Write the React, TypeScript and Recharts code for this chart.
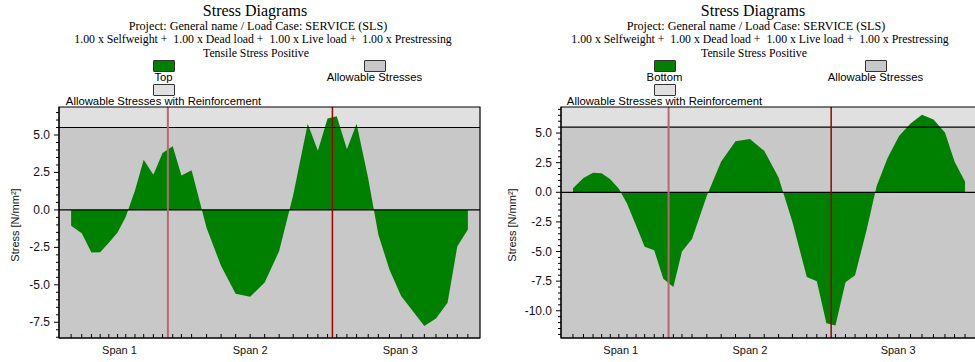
import { ComposedChart, Area, XAxis, YAxis, ReferenceLine, ReferenceArea } from 'recharts'

// section positions along the beam [m]
const stations = [0, 1.1, 2.1, 3.0, 3.9, 4.8, 5.65, 6.6, 7.5, 8.5, 9.45, 10.5, 11.4, 12.45, 14.0, 15.5, 17.0, 18.5, 20.0, 21.5, 22.95, 24.45, 25.5, 26.5, 27.45, 28.5, 29.5, 30.7, 31.75, 32.9, 34.1, 35.3, 36.5, 37.7, 38.9, 39.9, 41.0]

const topStress = [-1.05, -1.55, -2.85, -2.83, -2.2, -1.5, -0.45, 1.3, 3.35, 2.35, 3.8, 4.25, 2.3, 2.65, -1.2, -3.75, -5.6, -5.8, -4.85, -2.75, 1.0, 5.75, 3.95, 6.1, 6.25, 4.05, 5.75, 2.1, -1.65, -4.0, -5.75, -6.75, -7.75, -7.25, -6.2, -2.45, -1.3]

const bottomStress = [0.35, 1.2, 1.65, 1.6, 1.1, 0.3, -0.95, -2.8, -4.6, -4.9, -7.3, -8.0, -5.0, -3.95, -0.3, 2.6, 4.3, 4.5, 3.5, 1.25, -2.5, -7.15, -7.5, -11.05, -11.25, -7.6, -7.0, -3.2, 0.5, 2.9, 4.75, 5.8, 6.55, 6.15, 5.05, 2.6, 0.9]

const supports = [0, 10, 27, 41]
const spanNames = ['Span 1', 'Span 2', 'Span 3']
const allowable = 5.5
const topTicks = [-7.5, -5, -2.5, 0, 2.5, 5]
const bottomTicks = [-10, -7.5, -5, -2.5, 0, 2.5, 5]

const subtitles = [
  'Project: General name / Load Case: SERVICE (SLS)',
  '1.00 x Selfweight +  1.00 x Dead load +  1.00 x Live load +  1.00 x Prestressing',
  'Tensile Stress Positive',
]

const X_DOMAIN: [number, number] = [-1.25, 42.25]
const SANS = '"Liberation Sans", Arial, sans-serif'
const SERIF = '"Liberation Serif", "Times New Roman", serif'
const supportColors = ['#b56b6b', '#a00000']
const supportWidths = [2, 1.5]

const mids = spanNames.map((_, i) => (supports[i] + supports[i + 1]) / 2)
const xTicks = Array.from(new Set([...stations, ...mids])).sort((a, b) => a - b)

type PanelProps = {
  label: string
  values: number[]
  yDomain: [number, number]
  majors: number[]
  axisWidth: number
  width: number
  marginRight: number
  textCx: number[]
  legendX: number
  axisTitleX: number
}

function Txt({ cx, cy, size, font, children }: { cx: number; cy: number; size: number; font: string; children: React.ReactNode }) {
  const lh = size * 1.11
  return (
    <div style={{ position: 'absolute', left: cx - 300, width: 600, top: cy - lh / 2, lineHeight: lh + 'px', fontSize: size, fontFamily: font, textAlign: 'center', whiteSpace: 'pre', color: '#000' }}>
      {children}
    </div>
  )
}

function Swatch({ x, y, color }: { x: number; y: number; color: string }) {
  return <div style={{ position: 'absolute', left: x, top: y, width: 20, height: 10, background: color, border: '1px solid #333', borderRadius: 1 }} />
}

function Panel(p: PanelProps) {
  const rows = stations.map((x, i) => ({ x, v: p.values[i] }))
  const minor: number[] = []
  for (let k = Math.ceil(p.yDomain[0] / 0.5); k * 0.5 <= p.yDomain[1]; k++) minor.push(k * 0.5)
  const [yMin, yMax] = p.yDomain

  const xTick = (props: any) => {
    const { x, y, payload } = props
    const v = payload.value as number
    const i = mids.indexOf(v)
    return (
      <g>
        {stations.includes(v) && <line x1={x} x2={x} y1={y} y2={y - 4} stroke="#000" />}
        {i >= 0 && <text x={x} y={y + 16} textAnchor="middle" fontSize={11} fontFamily={SANS} fill="#111">{spanNames[i]}</text>}
      </g>
    )
  }

  const yTick = (props: any) => {
    const { x, y, payload } = props
    const v = payload.value as number
    const major = p.majors.includes(v)
    return (
      <g>
        <line x1={x - (major ? 5 : 3)} x2={x} y1={y} y2={y} stroke="#000" />
        {major && <text x={x - 9} y={y} dy={4} textAnchor="end" fontSize={12} fontFamily={SANS} fill="#111">{v.toFixed(1)}</text>}
      </g>
    )
  }

  const sx = p.legendX
  const c = p.textCx
  return (
    <div style={{ position: 'relative', width: p.width, height: 362, flexShrink: 0 }}>
      <Txt cx={c[0]} cy={10.9} size={16} font={SERIF}>Stress Diagrams</Txt>
      <Txt cx={c[1]} cy={26.6} size={12.2} font={SERIF}>{subtitles[0]}</Txt>
      <Txt cx={c[2]} cy={40} size={11.8} font={SERIF}>{subtitles[1]}</Txt>
      <Txt cx={c[3]} cy={53.2} size={11.8} font={SERIF}>{subtitles[2]}</Txt>

      <Swatch x={sx} y={60} color="#008000" />
      <Txt cx={sx + 10.5} cy={77} size={11.3} font={SANS}>{p.label}</Txt>
      <Swatch x={sx + 211} y={60} color="#c8c8c8" />
      <Txt cx={sx + 221.5} cy={77} size={11.3} font={SANS}>Allowable Stresses</Txt>
      <Swatch x={sx} y={84} color="#e0e0e0" />
      <Txt cx={sx + 10.5} cy={101} size={11.3} font={SANS}>Allowable Stresses with Reinforcement</Txt>

      <div style={{ position: 'absolute', left: p.axisTitleX, top: 225, transform: 'translate(-50%, -50%) rotate(-90deg)', fontSize: 11, fontFamily: SANS, whiteSpace: 'nowrap', color: '#111' }}>
        Stress [N/mm²]
      </div>

      <div style={{ position: 'absolute', left: 0, top: 0 }}>
        <ComposedChart width={p.width} height={362} data={rows} margin={{ top: 107, right: p.marginRight, bottom: 0, left: 0 }}>
          <ReferenceArea x1={X_DOMAIN[0]} x2={X_DOMAIN[1]} y1={yMin} y2={allowable} fill="#c8c8c8" fillOpacity={1} stroke="none" zIndex={-200} />
          <ReferenceArea x1={X_DOMAIN[0]} x2={X_DOMAIN[1]} y1={allowable} y2={yMax} fill="#e0e0e0" fillOpacity={1} stroke="none" zIndex={-200} />
          <XAxis dataKey="x" type="number" domain={X_DOMAIN} allowDataOverflow ticks={xTicks} interval={0} tickLine={false} tickSize={0} tickMargin={0} tick={xTick} axisLine={{ stroke: '#000' }} height={24} />
          <YAxis type="number" domain={p.yDomain} allowDataOverflow ticks={minor} interval={0} tickLine={false} tickSize={0} tickMargin={0} tick={yTick} axisLine={{ stroke: '#000' }} width={p.axisWidth} />
          <Area type="linear" dataKey="v" baseValue={0} fill="#008000" fillOpacity={1} stroke="none" dot={false} activeDot={false} isAnimationActive={false} zIndex={100} />
          <ReferenceLine y={0} stroke="#000" strokeWidth={1.2} zIndex={450} />
          <ReferenceLine y={allowable} stroke="#000" strokeWidth={1.2} zIndex={450} />
          {supports.slice(1, 3).map((s, i) => (
            <ReferenceLine key={s} x={s} stroke={supportColors[i]} strokeWidth={supportWidths[i]} zIndex={450} />
          ))}
          <ReferenceArea x1={X_DOMAIN[0]} x2={X_DOMAIN[1]} y1={yMin} y2={yMax} fill="none" stroke="#000" strokeWidth={1.2} zIndex={460} />
        </ComposedChart>
      </div>
    </div>
  )
}

export default function App() {
  return (
    <div style={{ position: 'absolute', left: 0, top: 0, width: 975, height: 362, overflow: 'hidden', background: '#fff', display: 'flex' }}>
      <Panel label="Top" values={topStress} yDomain={[-8.55, 6.87]} majors={topTicks} axisWidth={59} width={487} marginRight={7} textCx={[255, 258, 263, 256]} legendX={153} axisTitleX={15} />
      <Panel label="Bottom" values={bottomStress} yDomain={[-12.3, 7.2]} majors={bottomTicks} axisWidth={74} width={490} marginRight={0} textCx={[266, 269, 273, 267]} legendX={167} axisTitleX={25} />
    </div>
  )
}
